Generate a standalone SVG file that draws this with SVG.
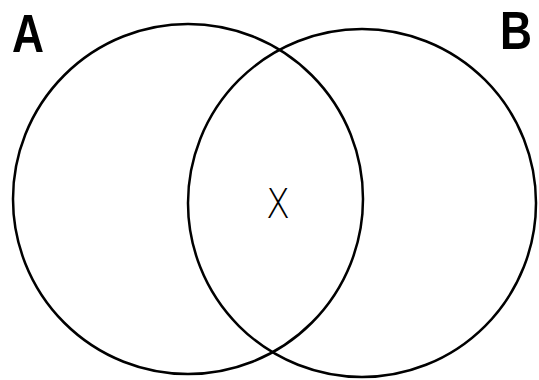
<svg xmlns="http://www.w3.org/2000/svg" width="539" height="380" viewBox="0 0 539 380">
<style>
.c{fill:none;stroke:#000;stroke-width:2.5}
.lbl{font-family:"Liberation Sans",Arial,sans-serif;font-weight:bold;fill:#000}
.x{font-family:"DejaVu Sans","Liberation Sans",sans-serif;font-weight:300;fill:#000}
</style>
<rect width="539" height="380" fill="#fff"/>
<g id="setA">
<circle class="c" cx="188" cy="199" r="175"/>
<text class="lbl" x="12" y="52" font-size="53" textLength="32" lengthAdjust="spacingAndGlyphs">A</text>
</g>
<g id="setB">
<circle class="c" cx="362" cy="203" r="174"/>
<text class="lbl" x="500" y="49" font-size="54" textLength="32" lengthAdjust="spacingAndGlyphs">B</text>
</g>
<g id="point">
<text class="x" x="266" y="218" font-size="41" textLength="24" lengthAdjust="spacingAndGlyphs">X</text>
</g>
<g id="connectors"/>
</svg>
